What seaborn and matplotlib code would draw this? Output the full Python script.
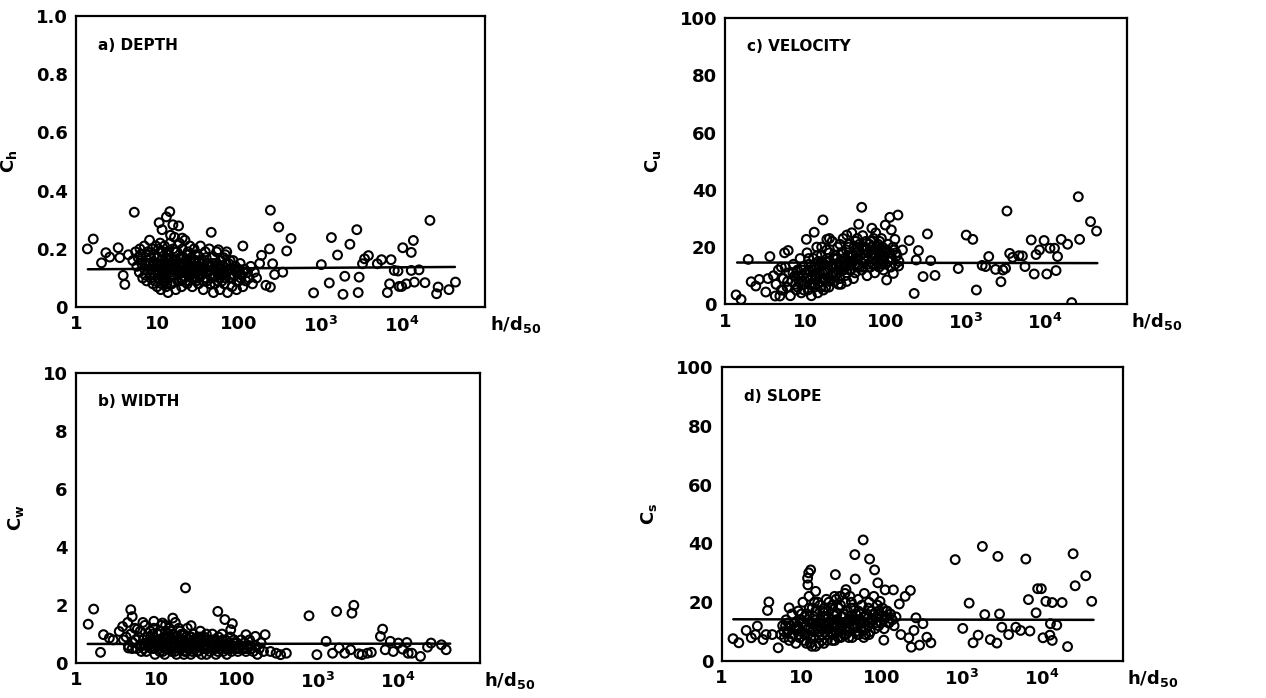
import pandas as pd
import matplotlib
matplotlib.use("Agg")
import matplotlib.pyplot as plt
import seaborn as sns


X_TICKS = [1, 10, 100, 1000, 10000]
X_TICK_LABELS = ["1", "10", "100", r"$\mathbf{10^3}$", r"$\mathbf{10^4}$"]
FIT_X = [1.4, 45000]

# a) depth: sparse points, then the dense cloud
depth_points = [
    (1.38, 0.20), (1.63, 0.234), (2.06, 0.152), (2.33, 0.187), (2.6, 0.172), (3.3, 0.204),
    (3.45, 0.17), (3.8, 0.109), (3.98, 0.078), (5.2, 0.326), (4.4, 0.18), (5.0, 0.16),
    (6.1, 0.2), (10.5, 0.29), (11.4, 0.266), (12.9, 0.31), (14.2, 0.328), (15.5, 0.283),
    (18.2, 0.279), (14.5, 0.247), (20.2, 0.237), (45.8, 0.257), (112, 0.21), (71, 0.19),
    (56, 0.197), (238, 0.2), (244, 0.333), (309, 0.275), (387, 0.193), (437, 0.236),
    (260, 0.149), (275, 0.112), (346, 0.12), (190, 0.178), (180, 0.15), (244, 0.069),
    (215, 0.075), (828, 0.049), (1030, 0.146), (1290, 0.083), (1370, 0.239), (1630, 0.179),
    (1900, 0.044), (2000, 0.106), (2310, 0.216), (2810, 0.266), (2920, 0.05), (3000, 0.103),
    (3300, 0.149), (3500, 0.166), (3900, 0.177), (5020, 0.149), (5650, 0.163), (6670, 0.05),
    (7100, 0.08), (7400, 0.163), (8100, 0.126), (9000, 0.124), (9300, 0.071), (10000, 0.071),
    (10300, 0.204), (11400, 0.08), (13100, 0.188), (13900, 0.229), (14300, 0.086),
    (13100, 0.126), (16300, 0.128), (19300, 0.084), (22200, 0.298), (26800, 0.046),
    (28000, 0.069), (38000, 0.06), (45700, 0.086),
    (5.4, 0.19), (5.6, 0.14), (5.8, 0.17), (6.0, 0.12), (6.2, 0.18), (6.4, 0.15), (6.6, 0.10),
    (6.9, 0.21), (7.0, 0.13), (7.2, 0.17), (7.4, 0.09), (7.6, 0.19), (7.8, 0.15), (8.0, 0.23),
    (8.1, 0.11), (8.3, 0.17), (8.5, 0.13), (8.7, 0.20), (8.8, 0.08), (9.0, 0.15), (9.2, 0.18),
    (9.4, 0.11), (9.6, 0.21), (9.7, 0.13), (9.9, 0.07), (10.1, 0.17), (10.3, 0.20), (10.4, 0.10),
    (10.6, 0.14), (10.8, 0.22), (11.0, 0.06), (11.2, 0.16), (11.4, 0.12), (11.6, 0.19),
    (11.8, 0.09), (12.0, 0.14), (12.2, 0.21), (12.4, 0.11), (12.6, 0.17), (12.8, 0.07),
    (13.0, 0.13), (13.3, 0.19), (13.5, 0.05), (13.7, 0.15), (14.0, 0.10), (14.3, 0.22),
    (14.5, 0.12), (14.8, 0.17), (15.0, 0.08), (15.3, 0.14), (15.6, 0.20), (15.9, 0.11),
    (16.2, 0.24), (16.5, 0.16), (16.8, 0.06), (17.1, 0.13), (17.4, 0.19), (17.8, 0.09),
    (18.2, 0.15), (18.6, 0.22), (19.0, 0.12), (19.4, 0.17), (19.8, 0.07), (20.3, 0.20),
    (20.8, 0.14), (21.3, 0.10), (21.8, 0.23), (22.3, 0.16), (22.8, 0.12), (23.3, 0.08),
    (23.8, 0.19), (24.4, 0.14), (25.0, 0.21), (25.6, 0.11), (26.2, 0.17), (26.8, 0.07),
    (27.5, 0.14), (28.2, 0.20), (28.9, 0.10), (29.6, 0.16), (30.4, 0.12), (31.2, 0.18),
    (32.0, 0.08), (32.9, 0.14), (33.8, 0.21), (34.7, 0.11), (35.6, 0.16), (36.6, 0.06),
    (37.6, 0.13), (38.7, 0.19), (39.8, 0.10), (41.0, 0.15), (42.2, 0.12), (43.4, 0.20),
    (44.7, 0.08), (46.0, 0.14), (47.4, 0.17), (48.8, 0.05), (50.3, 0.11), (51.8, 0.15),
    (53.4, 0.19), (55.0, 0.09), (56.7, 0.13), (58.5, 0.06), (60.3, 0.16), (62.2, 0.11),
    (64.1, 0.14), (66.1, 0.08), (68.2, 0.18), (70.4, 0.12), (72.6, 0.05), (74.9, 0.15),
    (77.3, 0.10), (79.8, 0.13), (82.4, 0.07), (85.1, 0.16), (87.9, 0.11), (90.8, 0.14),
    (93.8, 0.06), (96.9, 0.12), (100, 0.09), (104, 0.15), (108, 0.11), (112, 0.07),
    (117, 0.13), (122, 0.09), (128, 0.12), (134, 0.10), (140, 0.14), (147, 0.08),
    (155, 0.12), (165, 0.10),
    (10.5, 0.12), (11.5, 0.15), (12.5, 0.09), (13.5, 0.18), (14.5, 0.14), (16, 0.11),
    (17, 0.16), (18.5, 0.13), (19.5, 0.10), (21, 0.17), (22, 0.13), (23, 0.15), (24, 0.11),
    (26, 0.13), (28, 0.16), (30, 0.09), (33, 0.13), (36, 0.15), (40, 0.12), (44, 0.11),
    (49, 0.13), (55, 0.12), (62, 0.09), (70, 0.15),
    (6.3, 0.16), (7.1, 0.11), (7.9, 0.18), (8.6, 0.14), (9.3, 0.09), (10.2, 0.15), (11.1, 0.19),
    (11.9, 0.13), (12.7, 0.10), (13.6, 0.16), (14.6, 0.08), (15.6, 0.13), (16.6, 0.19),
    (17.7, 0.11), (18.9, 0.17), (20.1, 0.09), (21.4, 0.15), (22.8, 0.18), (24.2, 0.09),
    (25.8, 0.15), (27.4, 0.12), (29.2, 0.18), (31.0, 0.10), (33.0, 0.16), (35.1, 0.13),
    (37.3, 0.09), (39.7, 0.17), (42.2, 0.14), (44.9, 0.11), (47.7, 0.15), (50.7, 0.08),
    (53.9, 0.14), (57.3, 0.11), (61.0, 0.13), (64.8, 0.17), (68.9, 0.10), (73.3, 0.13),
    (78.0, 0.16), (83.0, 0.10), (88.2, 0.13), (93.8, 0.09), (99.7, 0.13), (106, 0.10),
    (113, 0.12), (12.1, 0.12), (15.1, 0.11), (18.1, 0.12), (20.6, 0.12), (26.5, 0.10),
    (32.1, 0.11), (9.8, 0.12), (8.3, 0.10), (7.3, 0.15), (40.8, 0.09), (46.5, 0.10),
    (58, 0.10), (66, 0.12), (30, 0.14), (23.5, 0.13), (19.2, 0.14), (16.9, 0.14),
    (14.1, 0.16), (13.1, 0.08), (11.3, 0.08),
]
depth_fit = [0.130, 0.138]

# b) width
width_points = [
    (1.42, 1.34), (1.66, 1.86), (2.02, 0.37), (2.2, 0.98), (2.6, 0.86), (2.9, 0.8),
    (3.45, 1.09), (3.8, 1.26), (4.4, 1.4), (4.8, 1.84), (5.0, 1.6), (3.9, 0.8), (4.5, 0.52),
    (5.8, 1.17), (6.8, 1.4), (9.3, 1.44), (11.9, 1.38), (16, 1.55), (23, 2.59), (27, 1.29),
    (58, 1.78), (71, 1.5), (88, 1.36), (84, 1.15), (130, 0.98), (170, 0.92), (225, 0.98),
    (262, 0.4), (308, 0.34), (350, 0.29), (413, 0.34), (790, 1.63), (990, 0.29), (1290, 0.75),
    (1550, 0.34), (1740, 1.78), (1870, 0.52), (2200, 0.34), (2600, 0.46), (2700, 1.72),
    (2850, 1.99), (3300, 0.32), (3600, 0.29), (4200, 0.34), (4700, 0.37), (6100, 0.92),
    (6500, 1.17), (7000, 0.46), (8100, 0.75), (8800, 0.4), (10200, 0.69), (11500, 0.48),
    (13000, 0.71), (13500, 0.34), (15000, 0.34), (19200, 0.23), (23500, 0.55), (26000, 0.69),
    (35000, 0.63), (40000, 0.46),
    (4.2, 0.9), (4.5, 0.6), (4.8, 1.0), (5.1, 0.7), (5.4, 1.2), (5.7, 0.5), (6.0, 0.9),
    (6.3, 1.1), (6.6, 0.6), (6.9, 0.8), (7.2, 1.3), (7.5, 0.4), (7.8, 0.9), (8.1, 0.7),
    (8.4, 1.1), (8.7, 0.5), (9.0, 0.8), (9.3, 1.2), (9.6, 0.3), (9.9, 0.7), (10.3, 1.0),
    (10.7, 0.5), (11.1, 0.8), (11.5, 1.3), (11.9, 0.6), (12.3, 0.9), (12.7, 0.3), (13.1, 1.1),
    (13.5, 0.7), (14.0, 0.5), (14.5, 1.2), (15.0, 0.8), (15.5, 0.4), (16.0, 1.0), (16.6, 0.6),
    (17.2, 1.4), (17.8, 0.3), (18.4, 0.9), (19.0, 0.7), (19.7, 1.1), (20.4, 0.5), (21.1, 0.8),
    (21.8, 1.0), (22.6, 0.4), (23.4, 0.7), (24.2, 1.2), (25.0, 0.5), (25.9, 0.9), (26.8, 0.3),
    (27.7, 0.7), (28.7, 1.0), (29.7, 0.6), (30.7, 0.8), (31.8, 0.4), (32.9, 0.9), (34.0, 0.6),
    (35.2, 1.1), (36.4, 0.3), (37.7, 0.7), (39.0, 0.9), (40.4, 0.5), (41.8, 1.0), (43.2, 0.6),
    (44.7, 0.8), (46.3, 0.4), (47.9, 0.7), (49.6, 1.0), (51.3, 0.5), (53.1, 0.8), (55.0, 0.3),
    (57.0, 0.6), (59.0, 0.9), (61.0, 0.5), (63.2, 0.7), (65.4, 1.0), (67.7, 0.4), (70.0, 0.6),
    (72.5, 0.8), (75.0, 0.3), (77.6, 0.5), (80.3, 0.7), (83.1, 0.9), (86.0, 0.4), (89.0, 0.6),
    (92.1, 0.8), (95.3, 0.5), (99, 0.7), (103, 0.4), (108, 0.6), (113, 0.8), (118, 0.5),
    (124, 0.7), (130, 0.4), (137, 0.6), (144, 0.8), (152, 0.5), (160, 0.4), (170, 0.6),
    (180, 0.3), (190, 0.5), (200, 0.7), (215, 0.4),
    (10, 0.6), (12, 0.7), (14, 0.9), (16, 0.5), (18, 0.6), (20, 0.8), (23, 0.6), (26, 0.7),
    (30, 0.5), (34, 0.8), (38, 0.5), (45, 0.7), (52, 0.6), (60, 0.7), (8, 0.6), (6.5, 0.4),
    (11, 0.4), (13, 0.5), (22, 0.3), (28, 0.4), (42, 0.3),
    (5, 0.5), (5.5, 0.8), (6.2, 0.6), (7, 0.5), (7.7, 0.7), (8.5, 0.9), (9.4, 0.5), (10.5, 0.8),
    (11.3, 0.6), (12, 0.4), (12.9, 0.8), (13.8, 1.0), (14.8, 0.6), (15.8, 0.7), (16.9, 0.4),
    (18, 0.8), (19.3, 0.5), (20.6, 1.0), (22, 0.6), (23.5, 0.9), (25.2, 0.7), (27, 0.5),
    (29, 0.8), (31, 0.6), (33, 0.4), (35.5, 0.7), (38, 0.6), (41, 0.8), (44, 0.5), (47, 0.6),
    (50, 0.8), (54, 0.5), (58, 0.4), (62, 0.6), (67, 0.8), (72, 0.5), (78, 0.6), (84, 0.5),
    (91, 0.7), (98, 0.5), (106, 0.5), (115, 0.6), (125, 0.5), (135, 0.5), (148, 0.6),
    (9, 1.0), (11, 1.1), (13, 1.3), (15, 1.1), (17, 0.9), (19, 1.2), (21, 0.6), (24, 0.4),
    (27, 0.9), (32, 0.7), (36, 0.9),
]
width_fit = [0.66, 0.67]

# c) velocity
velocity_points = [
    (1.36, 3.3), (1.57, 1.7), (1.93, 15.7), (2.1, 7.9), (2.4, 6.4), (2.65, 8.7), (3.2, 4.3),
    (3.6, 16.7), (3.4, 9), (4.2, 2.9), (4.8, 2.9), (5.2, 5), (5.5, 18), (6.1, 18.8), (5.0, 13),
    (10.3, 22.7), (12.9, 25.2), (16.6, 29.5), (18.6, 22.7), (20, 23), (33, 24.2), (46.5, 28),
    (50.7, 33.9), (68, 26.6), (76, 25), (100, 27.7), (114, 30.4), (119, 26), (132, 22.7),
    (144, 31.2), (104, 8.5), (126, 10.8), (147, 13.4), (164, 19), (199, 22.3), (230, 3.8),
    (244, 15.5), (260, 18.8), (297, 9.7), (337, 24.6), (370, 15.3), (419, 10.1), (819, 12.5),
    (1030, 24.2), (1245, 22.7), (1380, 5), (1630, 13.6), (1800, 13.2), (1970, 16.7),
    (2400, 12.2), (2800, 7.9), (2960, 12), (3200, 12.6), (3330, 32.6), (3600, 17.8),
    (3920, 16.4), (4700, 17), (5200, 16.9), (5600, 13.2), (6700, 22.5), (7300, 10.6),
    (7700, 17.4), (8500, 19), (9700, 22.3), (10500, 10.6), (11500, 19.6), (13100, 19.6),
    (13700, 11.8), (14300, 16.7), (15900, 22.7), (19100, 21), (21500, 0.6), (26000, 37.6),
    (27000, 22.7), (37000, 28.9), (44000, 25.6),
    (4.0, 10), (4.3, 7), (4.6, 12), (5.0, 5), (5.3, 9), (5.6, 13), (5.9, 6), (6.2, 11),
    (6.5, 3), (6.8, 8), (7.1, 14), (7.4, 10), (7.7, 5), (8.0, 12), (8.3, 8), (8.6, 16),
    (8.9, 4), (9.2, 10), (9.5, 13), (9.8, 7), (10.2, 11), (10.5, 18), (10.8, 5), (11.1, 14),
    (11.5, 9), (11.9, 3), (12.3, 12), (12.7, 16), (13.1, 7), (13.5, 10), (13.9, 20), (14.3, 4),
    (14.8, 13), (15.3, 8), (15.8, 17), (16.3, 11), (16.8, 5), (17.3, 14), (17.9, 9), (18.5, 19),
    (19.1, 12), (19.7, 6), (20.3, 15), (21.0, 10), (21.7, 22), (22.4, 13), (23.1, 8),
    (23.8, 17), (24.6, 11), (25.4, 20), (26.2, 14), (27.0, 9), (27.9, 18), (28.8, 12),
    (29.7, 23), (30.6, 16), (31.6, 10), (32.6, 19), (33.6, 14), (34.7, 21), (35.8, 12),
    (36.9, 17), (38.1, 25), (39.3, 15), (40.6, 20), (41.9, 11), (43.2, 18), (44.6, 23),
    (46.0, 14), (47.5, 21), (49.0, 17), (50.6, 12), (52.2, 24), (53.9, 19), (55.6, 15),
    (57.4, 22), (59.2, 10), (61.1, 18), (63.1, 21), (65.1, 13), (67.2, 20), (69.4, 16),
    (71.6, 23), (73.9, 11), (76.3, 19), (78.7, 15), (81.2, 21), (83.8, 13), (86.5, 18),
    (89.3, 16), (92.2, 20), (95.2, 12), (98.2, 17), (101, 14), (105, 19), (109, 15),
    (113, 18), (117, 13), (122, 16), (127, 19), (133, 14), (140, 17), (148, 15),
    (9, 8), (11, 12), (13, 6), (15, 11), (17, 9), (19, 15), (22, 11), (25, 16), (28, 7),
    (31, 13), (34, 17), (37, 12), (42, 16), (47, 19), (52, 13), (58, 17), (66, 19), (75, 17),
    (85, 22), (96, 19), (12, 7), (14, 11), (16, 14), (18, 6), (20, 9), (24, 14), (27, 21),
    (30, 12), (35, 15), (45, 13), (55, 20), (70, 14), (90, 14),
    (6, 8), (7, 11), (7.5, 7), (8.2, 10), (9, 12), (9.6, 5), (10.4, 9), (11.3, 7), (12.1, 10),
    (12.9, 13), (13.7, 9), (14.6, 15), (15.5, 6), (16.5, 9), (17.6, 12), (18.7, 16), (19.9, 8),
    (21.2, 13), (22.6, 16), (24, 10), (25.6, 12), (27.2, 15), (29, 18), (30.9, 14), (32.9, 11),
    (35, 20), (37.3, 14), (39.7, 17), (42.3, 22), (45, 16), (47.9, 13), (51, 20), (54.3, 16),
    (57.8, 19), (61.5, 14), (65.5, 22), (69.7, 18), (74.2, 14), (79, 20), (84, 17),
    (89.5, 23), (95, 15), (101, 18), (108, 21), (115, 16), (125, 20), (136, 18), (20, 18),
    (26, 7), (33, 8), (40, 9), (16, 20), (14, 17), (11, 16), (8, 6),
]
velocity_fit = [14.6, 14.4]

# d) slope
slope_points = [
    (1.39, 7.6), (1.64, 6.2), (2.03, 10.4), (2.35, 7.9), (2.65, 9), (2.8, 11.9), (3.3, 7.3),
    (3.6, 9), (3.75, 17.2), (3.9, 20.1), (5.1, 4.5), (4.3, 9), (6.3, 11.9), (7, 18.1),
    (11.9, 28.2), (12.3, 30), (13.0, 31), (12, 25.9), (15, 23.7), (26.5, 29.4), (36, 24.3),
    (46.4, 36.2), (59, 41.2), (47, 27.9), (71, 34.7), (82, 31), (90, 26.6), (96, 20.3),
    (111, 24.2), (141, 24.2), (107, 7.1), (167, 19.4), (175, 9), (198, 22), (230, 24),
    (220, 7.9), (236, 4.7), (255, 10.4), (270, 14.7), (300, 5.4), (330, 12.7), (370, 8.1),
    (415, 6.2), (836, 34.5), (1040, 11.1), (1250, 19.7), (1400, 6.2), (1620, 8.8),
    (1830, 39), (1960, 15.8), (2300, 7.3), (2780, 6.1), (2860, 35.6), (3000, 16),
    (3200, 11.5), (3900, 9), (4800, 11.5), (5500, 10.4), (6400, 34.7), (6900, 20.9),
    (7200, 10.2), (8600, 16.4), (9000, 24.6), (10000, 24.6), (10500, 7.9), (11400, 20.3),
    (12800, 8.8), (13000, 12.7), (13700, 19.9), (13700, 7), (15600, 12.2), (18200, 19.9),
    (21300, 4.9), (25000, 36.5), (26500, 25.6), (36000, 29), (42700, 20.3),
    (5.5, 9), (5.8, 12), (6.1, 8), (6.4, 14), (6.7, 10), (7.0, 7), (7.3, 12), (7.6, 16),
    (7.9, 9), (8.2, 13), (8.5, 6), (8.8, 11), (9.1, 17), (9.4, 8), (9.7, 14), (10.0, 10),
    (10.4, 20), (10.8, 7), (11.2, 12), (11.6, 16), (12.0, 9), (12.4, 22), (12.8, 6),
    (13.2, 13), (13.6, 18), (14.0, 10), (14.5, 15), (15.0, 5), (15.5, 12), (16.0, 20),
    (16.6, 8), (17.2, 14), (17.8, 11), (18.4, 17), (19.0, 6), (19.7, 12), (20.4, 21),
    (21.1, 9), (21.8, 15), (22.6, 11), (23.4, 18), (24.2, 7), (25.0, 13), (25.9, 22),
    (26.8, 10), (27.7, 16), (28.7, 8), (29.7, 13), (30.7, 19), (31.8, 11), (32.9, 15),
    (34.0, 9), (35.2, 20), (36.4, 13), (37.7, 17), (39.0, 10), (40.4, 22), (41.8, 14),
    (43.2, 8), (44.7, 18), (46.3, 12), (47.9, 16), (49.6, 9), (51.3, 21), (53.1, 14),
    (55.0, 11), (57.0, 19), (59.0, 13), (61.0, 23), (63.2, 9), (65.4, 16), (67.7, 12),
    (70.0, 20), (72.5, 10), (75.0, 17), (77.6, 14), (80.3, 22), (83.1, 11), (86.0, 15),
    (89.0, 19), (92.1, 12), (95.3, 16), (99, 13), (103, 18), (108, 11), (113, 15), (118, 17),
    (124, 13), (130, 16), (137, 14), (144, 12), (152, 15),
    (9, 12), (11, 9), (13, 11), (15, 14), (17, 10), (19, 13), (21, 12), (23, 10), (25, 16),
    (27, 12), (30, 10), (33, 13), (36, 11), (40, 15), (45, 14), (50, 12), (55, 16), (62, 15),
    (70, 13), (12, 14), (14, 8), (16, 11), (18, 9), (20, 15), (22, 13), (24, 12), (28, 14),
    (32, 12), (38, 13), (48, 10),
    (6, 10), (6.8, 13), (7.5, 8), (8.3, 11), (9.2, 9), (10.1, 13), (11, 15), (12, 11), (13, 8),
    (14, 13), (15, 17), (16.2, 10), (17.5, 13), (18.8, 15), (20.2, 11), (21.7, 17), (23.3, 14),
    (25, 9), (26.9, 14), (28.9, 18), (31, 13), (33.4, 16), (35.9, 9), (38.6, 14), (41.5, 18),
    (44.6, 11), (47.9, 14), (51.5, 17), (55.4, 13), (59.6, 15), (64, 11), (68.8, 18), (74, 14),
    (79.5, 16), (85.5, 13), (92, 17), (99, 15), (106, 14), (114, 17), (123, 13), (10, 16),
    (12.5, 18), (14.5, 20), (17, 19), (19.5, 18), (22, 20), (24.5, 19), (27, 21), (30, 22),
    (35, 23), (42, 20), (18, 7), (21, 7), (26, 7), (31, 8), (16.5, 6), (13.5, 5), (11.5, 6),
    (39, 8), (52, 9), (60, 8), (70, 9),
]
slope_fit = [14.2, 14.0]


def draw_panel(ax, points, fit_y, ymax, yticks, yticklabels, ylabel, title):
	df = pd.DataFrame(points, columns=["h_d50", "c"])
	sns.scatterplot(
		data=df, x="h_d50", y="c", ax=ax,
		marker="o", s=40, facecolors="none", edgecolor="black", linewidth=1.5,
	)
	sns.lineplot(x=FIT_X, y=fit_y, ax=ax, color="black", linewidth=1.8)
	ax.set_xscale("log")
	ax.set_xlim(1, 1.05e5)
	ax.set_ylim(0, ymax)
	ax.set_xticks(X_TICKS)
	ax.set_xticklabels(X_TICK_LABELS)
	ax.minorticks_off()
	ax.set_yticks(yticks)
	ax.set_yticklabels(yticklabels)
	ax.set_xlabel("")
	ax.set_ylabel(ylabel, fontsize=13, fontweight="bold", labelpad=12, color="black")
	ax.tick_params(direction="in", length=5, width=1.5, labelsize=13, pad=6,
		colors="black")
	for label in ax.get_xticklabels() + ax.get_yticklabels():
		label.set_fontweight("bold")
	for spine in ax.spines.values():
		spine.set_linewidth(1.6)
		spine.set_color("black")
	ax.text(0.055, 0.9, title, transform=ax.transAxes, fontsize=11, fontweight="bold",
		ha="left", va="center", color="black")
	ax.text(1.075, -0.025, r"$\mathbf{h/d_{50}}$", transform=ax.transAxes, fontsize=13,
		ha="center", va="top", color="black")


def main():
	sns.set_style("white")
	plt.rcParams["font.family"] = ["DejaVu Sans"]
	plt.rcParams["mathtext.fontset"] = "dejavusans"
	plt.rcParams["text.color"] = "black"
	plt.rcParams["axes.labelcolor"] = "black"
	fig = plt.figure(figsize=(12.66, 6.98), dpi=100)
	ax_a = fig.add_axes([0.060, 0.560, 0.323, 0.417])
	ax_c = fig.add_axes([0.573, 0.564, 0.317, 0.410])
	ax_b = fig.add_axes([0.060, 0.050, 0.319, 0.416])
	ax_d = fig.add_axes([0.570, 0.053, 0.317, 0.421])

	draw_panel(ax_a, depth_points, depth_fit, 1.0, [0, 0.2, 0.4, 0.6, 0.8, 1.0],
		["0", "0.2", "0.4", "0.6", "0.8", "1.0"], r"$\mathbf{C_h}$", "a) DEPTH")
	draw_panel(ax_b, width_points, width_fit, 10, [0, 2, 4, 6, 8, 10],
		["0", "2", "4", "6", "8", "10"], r"$\mathbf{C_w}$", "b) WIDTH")
	draw_panel(ax_c, velocity_points, velocity_fit, 100, [0, 20, 40, 60, 80, 100],
		["0", "20", "40", "60", "80", "100"], r"$\mathbf{C_u}$", "c) VELOCITY")
	draw_panel(ax_d, slope_points, slope_fit, 100, [0, 20, 40, 60, 80, 100],
		["0", "20", "40", "60", "80", "100"], r"$\mathbf{C_s}$", "d) SLOPE")

	fig.savefig("out.png", dpi=100, facecolor="white")


if __name__ == "__main__":
	main()
